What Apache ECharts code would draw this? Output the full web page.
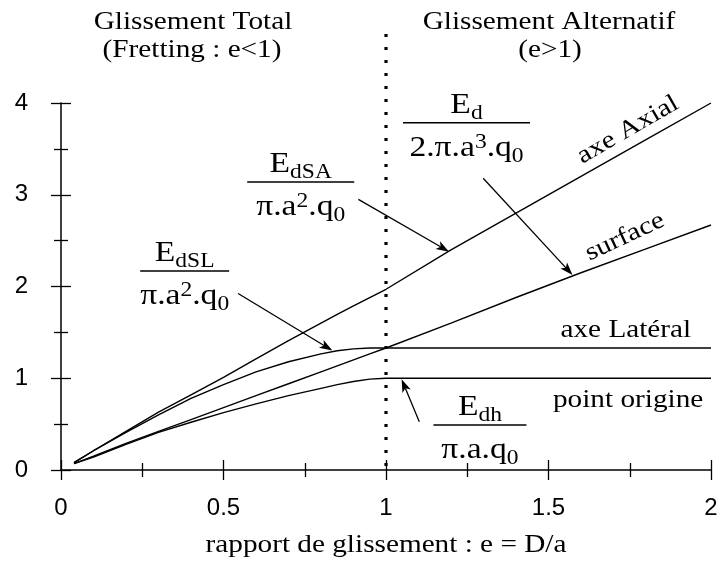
<!DOCTYPE html>
<html><head><meta charset="utf-8">
<script src="https://cdn.jsdelivr.net/npm/echarts@6/dist/echarts.min.js"></script>
<style>html,body{margin:0;padding:0;background:#fff}#c{width:719px;height:568px}</style>
</head><body><div id="c"></div>
<script>
// ---- data ----
const ratio        = [0.04, 0.1, 0.2, 0.3, 0.4, 0.5, 0.6, 0.7, 0.8, 0.85, 0.9, 0.95, 1.0, 1.2, 1.4, 1.6, 1.8, 2.0];
const axeAxial     = [0.08, 0.21, 0.42, 0.63, 0.82, 1.01, 1.21, 1.41, 1.60, 1.695, 1.79, 1.88, 1.97, 2.40, 2.80, 3.20, 3.60, 4.00];
const surface      = [0.07, 0.15, 0.29, 0.42, 0.55, 0.68, 0.81, 0.94, 1.07, 1.135, 1.20, 1.265, 1.33, 1.60, 1.88, 2.15, 2.41, 2.67];
const axeLateral   = [0.08, 0.21, 0.41, 0.60, 0.78, 0.93, 1.07, 1.18, 1.265, 1.30, 1.32, 1.33, 1.33, 1.33, 1.33, 1.33, 1.33, 1.33];
const pointOrigine = [0.07, 0.14, 0.28, 0.41, 0.52, 0.625, 0.72, 0.81, 0.89, 0.93, 0.965, 0.99, 1.0, 1.0, 1.0, 1.0, 1.0, 1.0];
const xRange = [0, 2], xStep = 0.5;
const yRange = [0, 4], yStep = 1;
const divider = [1, 4.76];              // e = 1 boundary (x, top of dotted line)
const titleLeft  = ['Glissement Total', '(Fretting : e<1)'];
const titleRight = ['Glissement Alternatif', '(e>1)'];
const xName = 'rapport de glissement : e = D/a';
const curveLabels = [
  {text: 'axe Axial',     at: [1.744, 3.706], rot: 30},
  {text: 'surface',       at: [1.735, 2.54],  rot: 25},
  {text: 'axe Latéral',   at: [1.738, 1.526], rot: 0},
  {text: 'point origine', at: [1.745, 0.763], rot: 0}
];
// fractions: bar centre (data coords), bar width px, numerator, denominator (rich)
const fractions = [
  {at: [1.2477, 3.785], w: 127, num: '{m|E}{s|d}',   den: '{m|2.π.a}{p|3}{m|.q}{s|0}'},
  {at: [0.7375, 3.139], w: 107, num: '{m|E}{s|dSA}', den: '{m|π.a}{p|2}{m|.q}{s|0}'},
  {at: [0.3805, 2.169], w: 89,  num: '{m|E}{s|dSL}', den: '{m|π.a}{p|2}{m|.q}{s|0}'},
  {at: [1.289, 0.4905], w: 93,  num: '{m|E}{s|dh}',  den: '{m|π.a.q}{s|0}'}
];
const arrows = [
  {from: [1.299, 3.18],  to: [1.574, 2.125]},
  {from: [0.915, 2.95],  to: [1.194, 2.38]},
  {from: [0.545, 1.924], to: [0.835, 1.302]},
  {from: [1.1025, 0.526], to: [1.048, 0.989]}
];

const SERIF = 'Liberation Serif, Times New Roman, serif';
const SANS = 'Liberation Sans, Arial, sans-serif';
const SX = 1.17;
const BLACK = '#000';

const chart = echarts.init(document.getElementById('c'), null, {renderer: 'canvas'});

function mkAxis(dim, range, step, primary) {
  const a = {
    type: 'value', min: range[0], max: range[1], interval: step,
    splitLine: {show: false},
    axisLine: {show: primary, onZero: !primary, lineStyle: {color: BLACK, width: 1.5}},
    axisTick: {show: true, inside: false, length: 10, lineStyle: {color: BLACK, width: 1.3}},
    minorTick: {show: true, splitNumber: 2, length: 7, lineStyle: {color: BLACK, width: 1.3}},
    axisLabel: primary ? {show: true, color: BLACK, fontSize: 24, fontFamily: SANS, margin: dim === 'x' ? 26 : 33}
                       : {show: false}
  };
  if (!primary) a.axisLine.onZeroAxisIndex = 0;
  a.position = dim === 'x' ? (primary ? 'bottom' : 'top') : (primary ? 'left' : 'right');
  return a;
}

function toPairs(arr) { return ratio.map((x, i) => [x, arr[i]]); }
function lineSeries(name, arr) {
  return {
    name, type: 'line', data: toPairs(arr), showSymbol: false, symbol: 'none',
    smooth: false,
    lineStyle: {color: BLACK, width: 1.4}, silent: true, animation: false
  };
}

const option = {
  animation: false,
  backgroundColor: '#fff',
  grid: {left: 61, right: 8, top: 103, bottom: 98, containLabel: false, outerBoundsMode: 'none'},
  xAxis: [mkAxis('x', xRange, xStep, true), mkAxis('x', xRange, xStep, false)],
  yAxis: [mkAxis('y', yRange, yStep, true), mkAxis('y', yRange, yStep, false)],
  series: [
    lineSeries('axe Axial', axeAxial),
    lineSeries('surface', surface),
    lineSeries('axe Latéral', axeLateral),
    lineSeries('point origine', pointOrigine),
    {
      type: 'custom', clip: false, silent: true, data: [divider],
      renderItem: function (params, api) {
        const p0 = api.coord([api.value(0), 0]);
        const p1 = api.coord([api.value(0), api.value(1)]);
        return {type: 'line', shape: {x1: p0[0], y1: p0[1] - 4, x2: p1[0], y2: p1[1]},
                style: {stroke: BLACK, lineWidth: 3.2, lineDash: [3, 10], lineCap: 'butt'}};
      }
    }
  ]
};
chart.setOption(option);

// ---- annotations ----
const px = p => chart.convertToPixel({xAxisIndex: 0, yAxisIndex: 0}, p);
const rich = {
  m: {fontSize: 30, fontFamily: SERIF, fill: BLACK},
  s: {fontSize: 21, fontFamily: SERIF, fill: BLACK, padding: [16, 0, 0, 0]},
  p: {fontSize: 21, fontFamily: SERIF, fill: BLACK, padding: [0, 0, 12, 0]}
};
const g = [];
function txt(t, x, y, size, rot) {
  g.push({type: 'text', x, y, scaleX: SX, rotation: (rot || 0) * Math.PI / 180, silent: true,
          style: {text: t, fontSize: size, fontFamily: SERIF, fill: BLACK, align: 'center', verticalAlign: 'middle'}});
}
// titles
const dx = px([divider[0], 0])[0];
txt(titleLeft[0], 193, 22, 25); txt(titleLeft[1], 192, 50, 25);
txt(titleRight[0], 549, 22, 25); txt(titleRight[1], 550, 50, 25);
// axis name
txt(xName, dx, 545, 25);
// curve labels
curveLabels.forEach(c => { const p = px(c.at); txt(c.text, p[0], p[1], 25, c.rot); });
// fractions
fractions.forEach(f => {
  const p = px(f.at);
  g.push({type: 'line', silent: true, shape: {x1: p[0] - f.w / 2, y1: p[1], x2: p[0] + f.w / 2, y2: p[1]},
          style: {stroke: BLACK, lineWidth: 1.3}});
  g.push({type: 'text', x: p[0], y: p[1] + 1, scaleX: 1.12, silent: true,
          style: {text: f.num, rich, align: 'center', verticalAlign: 'bottom'}});
  g.push({type: 'text', x: p[0], y: p[1] + 7, scaleX: 1.12, silent: true,
          style: {text: f.den, rich, align: 'center', verticalAlign: 'top'}});
});
// arrows
arrows.forEach(a => {
  const p0 = px(a.from), p1 = px(a.to);
  const ddx = p1[0] - p0[0], ddy = p1[1] - p0[1];
  const len = Math.hypot(ddx, ddy), ux = ddx / len, uy = ddy / len;
  const L = 13, W = 4.5;
  const bx = p1[0] - ux * L, by = p1[1] - uy * L;
  const nx = p1[0] - ux * L * 0.75, ny = p1[1] - uy * L * 0.75;
  g.push({type: 'line', silent: true, shape: {x1: p0[0], y1: p0[1], x2: nx, y2: ny},
          style: {stroke: BLACK, lineWidth: 1.3}});
  g.push({type: 'polygon', silent: true,
          shape: {points: [[p1[0], p1[1]], [bx - uy * W, by + ux * W], [nx, ny], [bx + uy * W, by - ux * W]]},
          style: {fill: BLACK}});
});
chart.setOption({graphic: g});
</script>
</body></html>
